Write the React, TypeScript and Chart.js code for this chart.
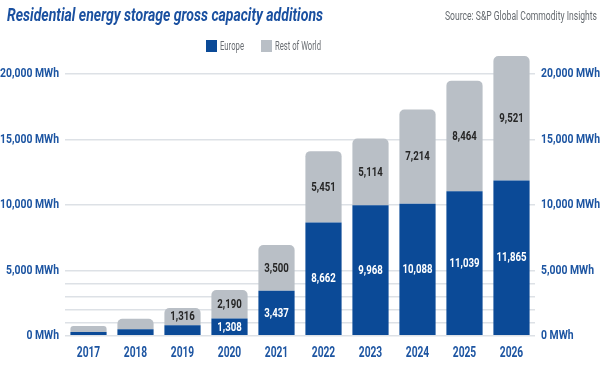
import React, { useEffect, useRef } from "react";
import { Chart, registerables } from "chart.js";

Chart.register(...registerables);

const years = ["2017", "2018", "2019", "2020", "2021", "2022", "2023", "2024", "2025", "2026"];
const europe = [280, 490, 800, 1308, 3437, 8662, 9968, 10088, 11039, 11865];
const restOfWorld = [460, 810, 1316, 2190, 3500, 5451, 5114, 7214, 8464, 9521];
const yTicks = [0, 1000, 2000, 3000, 4000, 5000, 10000, 15000, 20000];
const titleText = "Residential energy storage gross capacity additions";
const sourceText = "Source: S&P Global Commodity Insights";
const legendLabels = ["Europe", "Rest of World"];

const FONT = 'Roboto, "Noto Sans", sans-serif';
const BLUE = "#0b4a97";
const GRAY = "#b9bfc6";
const AXIS_BLUE = "#1d55a2";

const yLabel = (v: number) => (v % 5000 === 0 ? v.toLocaleString("en-US") + " MWh" : "");

function drawText(
  ctx: CanvasRenderingContext2D,
  text: string,
  x: number,
  y: number,
  align: CanvasTextAlign,
  font: string,
  color: string,
  sx: number
) {
  ctx.save();
  ctx.font = font;
  ctx.fillStyle = color;
  ctx.textBaseline = "middle";
  ctx.textAlign = align;
  ctx.translate(x, y);
  ctx.scale(sx, 1);
  ctx.fillText(text, 0, 0);
  ctx.restore();
}

const decorPlugin = {
  id: "decor",
  afterDatasetsDraw(chart: any) {
    const ctx = chart.ctx;
    chart.data.datasets.forEach((ds: any, di: number) => {
      const meta = chart.getDatasetMeta(di);
      meta.data.forEach((el: any, i: number) => {
        const v = ds.data[i];
        if (v < 1000) return;
        const p = el.getProps(["x", "y", "base"], true);
        const cy = (p.y + p.base) / 2;
        drawText(ctx, v.toLocaleString("en-US"), p.x, cy + 0.5, "center", "bold 13px " + FONT, di === 0 ? "#ffffff" : "#262626", 0.74);
      });
    });
  },
  afterDraw(chart: any) {
    const ctx = chart.ctx;
    // axis tick labels
    const xs = chart.scales.x;
    xs.getLabels().forEach((lab: string, i: number) => {
      drawText(ctx, lab, xs.getPixelForValue(i), 353, "center", "bold 14px " + FONT, AXIS_BLUE, 0.73);
    });
    const ys = chart.scales.y;
    const ys2 = chart.scales.y2;
    ys.ticks.forEach((t: any) => {
      const lab = yLabel(t.value);
      if (!lab) return;
      const py = ys.getPixelForValue(t.value);
      drawText(ctx, lab, ys.right - 6, py, "right", "bold 13px " + FONT, AXIS_BLUE, 0.8);
    });
    ys2.ticks.forEach((t: any) => {
      const lab = yLabel(t.value);
      if (!lab) return;
      const py = ys2.getPixelForValue(t.value);
      drawText(ctx, lab, ys2.left + 6, py, "left", "bold 13px " + FONT, AXIS_BLUE, 0.8);
    });

    ctx.save();
    ctx.textBaseline = "middle";
    // title
    ctx.font = "italic bold 17.5px " + FONT;
    ctx.fillStyle = "#1a50a0";
    ctx.textAlign = "left";
    ctx.fillText(titleText, 7, 17, 316);
    // source
    ctx.font = "12px " + FONT;
    ctx.fillStyle = "#666b70";
    ctx.textAlign = "right";
    ctx.fillText(sourceText, 597, 17, 152);
    // legend
    const items = [
      { label: legendLabels[0], color: BLUE, bx: 206, tx: 220, w: 24 },
      { label: legendLabels[1], color: GRAY, bx: 261, tx: 275, w: 46 },
    ];
    items.forEach((it) => {
      ctx.fillStyle = it.color;
      ctx.fillRect(it.bx, 40, 11, 12);
      ctx.font = "12px " + FONT;
      ctx.fillStyle = "#6a6e73";
      ctx.textAlign = "left";
      ctx.fillText(it.label, it.tx, 46.5, it.w);
    });
    ctx.restore();
  },
};

export default function App() {
  const ref = useRef<HTMLCanvasElement | null>(null);
  useEffect(() => {
    document.body.style.margin = "0";
    if (!ref.current) return;
    const chart = new Chart(ref.current, {
      type: "bar",
      data: {
        labels: years,
        datasets: [
          {
            label: legendLabels[0],
            data: europe,
            backgroundColor: BLUE,
            borderWidth: 0,
            barPercentage: 0.77,
            categoryPercentage: 1,
          },
          {
            label: legendLabels[1],
            data: restOfWorld,
            backgroundColor: GRAY,
            borderWidth: 0,
            borderSkipped: false,
            borderRadius: { topLeft: 5, topRight: 5, bottomLeft: 0, bottomRight: 0 },
            barPercentage: 0.77,
            categoryPercentage: 1,
          },
        ],
      },
      options: {
        responsive: false,
        animation: false,
        layout: { padding: { top: 48, left: 0, right: 0, bottom: 0 } },
        plugins: {
          legend: { display: false },
          title: { display: false },
          tooltip: { enabled: false },
        },
        scales: {
          x: {
            stacked: true,
            grid: { display: false, drawTicks: false },
            border: { display: false },
            ticks: { display: false },
            afterFit: (s: any) => {
              s.height = 45.3;
            },
          },
          y: {
            stacked: true,
            min: 0,
            max: 22000,
            position: "left",
            grid: { color: "#dde1e6", lineWidth: 1.5, drawTicks: false },
            border: { display: false },
            afterBuildTicks: (s: any) => {
              s.ticks = yTicks.map((v) => ({ value: v }));
            },
            ticks: { display: false, autoSkip: false },
            afterFit: (s: any) => {
              s.width = 65;
            },
          },
          y2: {
            min: 0,
            max: 22000,
            position: "right",
            grid: { display: false, drawTicks: false },
            border: { display: false },
            afterBuildTicks: (s: any) => {
              s.ticks = yTicks.map((v) => ({ value: v }));
            },
            ticks: { display: false, autoSkip: false },
            afterFit: (s: any) => {
              s.width = 65;
            },
          },
        },
      } as any,
      plugins: [decorPlugin],
    });
    return () => chart.destroy();
  }, []);
  return (
    <div style={{ width: 600, height: 381, background: "#ffffff" }}>
      <canvas ref={ref} width={600} height={381} />
    </div>
  );
}
